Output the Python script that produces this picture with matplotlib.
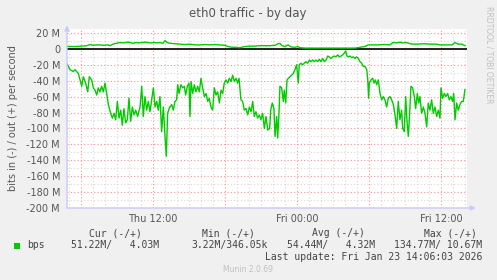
import numpy as np
import matplotlib
matplotlib.use("Agg")
import matplotlib.pyplot as plt
from matplotlib.patches import Rectangle

# hours since Thu 00:00, values in Mbit/s
in_hours = [4.81, 5.08, 5.36, 5.50, 5.78, 5.92, 6.06, 6.19, 6.39, 6.56, 6.69, 6.89, 7.03, 7.17, 7.31,
            7.44, 7.58, 7.72, 7.86, 8.00, 8.14, 8.28, 8.47, 8.61, 8.75, 8.89, 9.03, 9.17, 9.31, 9.44,
            9.58, 9.72, 9.86, 10.00, 10.14, 10.28, 10.42, 10.56, 10.72, 10.92, 11.06, 11.19, 11.33,
            11.47, 11.61, 11.75, 11.89, 12.03, 12.17, 12.31, 12.44, 12.58, 12.72, 12.86, 13.00, 13.11,
            13.22, 13.39, 13.42, 13.56, 13.69, 13.83, 13.97, 14.06, 14.17, 14.33, 14.47, 14.61, 14.72,
            14.86, 15.00, 15.08, 15.17, 15.31, 15.44, 15.58, 15.72, 15.86, 16.00, 16.14, 16.28, 16.42,
            16.56, 16.69, 16.83, 16.97, 17.11, 17.25, 17.39, 17.53, 17.67, 17.81, 17.94, 18.08, 18.22,
            18.36, 18.50, 18.64, 18.78, 18.92, 19.06, 19.17, 19.33, 19.47, 19.61, 19.75, 19.89, 20.03,
            20.17, 20.31, 20.44, 20.58, 20.72, 20.86, 21.00, 21.14, 21.28, 21.42, 21.56, 21.72, 21.81,
            21.94, 22.08, 22.17, 22.31, 22.39, 22.50, 22.58, 22.72, 22.86, 22.94, 23.06, 23.17, 23.28,
            23.42, 23.56, 23.69, 23.83, 23.97, 24.11, 24.19, 24.33, 24.47, 24.61, 24.75, 24.89, 25.03,
            25.17, 25.31, 25.44, 25.58, 25.72, 25.86, 26.00, 26.14, 26.28, 26.42, 26.56, 26.69, 26.83,
            26.97, 27.11, 27.25, 27.39, 27.53, 27.67, 27.81, 27.94, 28.06, 28.17, 28.28, 28.42, 28.56,
            28.69, 28.83, 28.97, 29.11, 29.25, 29.39, 29.53, 29.67, 29.81, 29.90, 29.97, 30.03, 30.17,
            30.31, 30.42, 30.53, 30.64, 30.78, 30.92, 31.06, 31.19, 31.33, 31.47, 31.61, 31.75, 31.89,
            32.03, 32.17, 32.31, 32.44, 32.58, 32.72, 32.81, 32.94, 33.06, 33.17, 33.28, 33.39, 33.50,
            33.64, 33.78, 33.89, 34.03, 34.14, 34.25, 34.39, 34.53, 34.67, 34.81, 34.94, 35.08, 35.22,
            35.36, 35.50, 35.64, 35.78, 35.92, 36.00, 36.14, 36.28, 36.42, 36.56, 36.69, 36.83, 36.97,
            37.06, 37.17, 37.31, 37.44, 37.58, 37.72, 37.86, 38.00]
in_vals = [-18, -26, -28.5, -26, -31, -39, -47, -35, -43, -54, -35, -39, -49, -52, -58,
           -49, -54, -47, -54, -43, -56, -70, -81, -87, -81, -89, -66, -87, -77, -96,
           -75, -93, -89, -62, -91, -73, -83, -77, -85, -73, -47, -85, -60,
           -77, -66, -79, -64, -49, -73, -66, -77, -60, -104, -73, -110, -135,
           -81, -73, -73, -70, -77, -66, -64, -45, -56, -45, -49, -47, -58,
           -47, -43, -85, -41, -56, -45, -54, -47, -54, -37, -49, -60, -56,
           -66, -62, -73, -77, -49, -58, -54, -68, -52, -56, -43, -39, -43,
           -37, -41, -33, -41, -37, -43, -37, -64, -66, -77, -75, -83, -73,
           -79, -66, -85, -79, -87, -83, -89, -81, -100, -85, -102, -100, -77,
           -68, -75, -110, -85, -112, -81, -47, -49, -66, -52, -68, -39, -37,
           -35, -33, -31, -26, -20, -43, -20, -18, -20, -18, -16, -18, -14,
           -16, -14, -16, -14, -16, -13, -16, -12, -16, -14, -9, -10, -12,
           -10, -9, -10, -7.5, -10, -9, -7.5, -5.5, -2.5, -9, -10, -9, -11,
           -10, -12, -10, -12, -16, -18, -22, -22, -26, -39, -62, -43, -39,
           -37, -43, -39, -45, -39, -56, -64, -60, -64, -73, -62, -60, -64,
           -70, -83, -100, -66, -89, -77, -100, -104, -60, -91, -110, -81, -47,
           -49, -60, -75, -56, -68, -60, -81, -73, -81, -98, -68, -77, -64,
           -81, -73, -85, -77, -87, -49, -62, -56, -60, -56, -64, -60, -66,
           -56, -89, -68, -77, -70, -66, -66, -51.2]

out_hours = [4.83, 5.25, 5.67, 6.08, 6.50, 6.75, 7.00, 7.33, 7.58, 7.92, 8.25, 8.42, 8.67, 8.92,
             9.25, 9.58, 9.83, 10.08, 10.33, 10.58, 10.83, 11.08, 11.33, 11.58, 11.83, 12.08, 12.33,
             12.58, 12.83, 13.00, 13.17, 13.42, 13.83, 14.25, 14.67, 15.08, 15.50, 15.92, 16.33,
             16.75, 17.17, 17.58, 18.00, 18.25, 18.58, 18.92, 19.25, 19.50, 19.75, 20.08, 20.50,
             20.92, 21.33, 21.75, 22.17, 22.42, 22.58, 22.75, 23.00, 23.25, 23.50, 23.83, 24.08,
             24.25, 24.67, 25.08, 25.92, 26.75, 27.58, 28.42, 28.83, 29.25, 29.67, 29.92, 30.25,
             30.75, 31.25, 31.75, 32.00, 32.33, 32.58, 32.83, 33.08, 33.33, 33.58, 34.08, 34.58,
             35.08, 35.58, 35.92, 36.42, 36.92, 37.17, 37.42, 37.75, 38.00]
out_vals = [3, 3, 3, 3.5, 4, 5.5, 4.5, 5, 5, 4.5, 5, 4, 6, 7,
            8, 7.5, 8.5, 8, 7, 8, 7.5, 8, 8.5, 8, 7.5, 8, 7.5,
            8, 7, 10.5, 8, 7, 6.5, 6, 5.5, 6, 5, 5, 5.5,
            5, 5.5, 5, 4.5, 3, 2, 2, 1.5, 2.5, 3, 3.5, 3.5,
            4, 4, 4, 4.5, 6.5, 7, 4, 3, 5, 2.5, 2, 3,
            1.5, 1, 1, 1, 1, 1, 1, 1, 2, 3, 5, 5,
            5, 5.5, 5, 8, 7.5, 8.5, 7.5, 8, 7, 6, 6, 6.5,
            6, 6, 5, 5, 5, 8, 6, 6, 4.03]

x_ticks = [12, 24, 36]
x_labels = ["Thu 12:00", "Fri 00:00", "Fri 12:00"]
y_ticks = [20, 0, -20, -40, -60, -80, -100, -120, -140, -160, -180, -200]
y_labels = ["20 M", "0", "-20 M", "-40 M", "-60 M", "-80 M", "-100 M", "-120 M",
            "-140 M", "-160 M", "-180 M", "-200 M"]

legend_head = ["Cur (-/+)", "Min (-/+)", "Avg (-/+)", "Max (-/+)"]
legend_vals = ["51.22M/   4.03M", "3.22M/346.05k", "54.44M/   4.32M", "134.77M/ 10.67M"]

W, H = 497, 280
fig = plt.figure(figsize=(W / 100, H / 100), dpi=100, facecolor="#f0f0f0")

def fx(px):
    return px / W

def fy(py):
    return 1 - py / H

ax = fig.add_axes([fx(67), fy(208), fx(467) - fx(67), fy(29) - fy(208)])
ax.set_facecolor("white")
ax.set_xlim(4.833, 38.17)
ax.set_ylim(-200, 25)

# grid
for h in np.arange(5, 39, 1):
    c = "#ff9090" if h % 6 == 0 else "#d8d8d8"
    ax.axvline(h, color=c, lw=0.8, ls=(0, (1, 2)), zorder=1)
for v in np.arange(-200, 21, 10):
    c = "#ff9090" if v % 20 == 0 else "#d8d8d8"
    ax.axhline(v, color=c, lw=0.8, ls=(0, (1, 2)), zorder=1)

ax.axhline(0, color="black", lw=1.2, zorder=3)
ax.plot(in_hours, in_vals, color="#00cc00", lw=1, zorder=4)
ax.plot(out_hours, out_vals, color="#00cc00", lw=1, zorder=4)

for s in ax.spines.values():
    s.set_visible(False)
ax.set_xticks(x_ticks)
ax.set_xticklabels(x_labels)
ax.set_yticks(y_ticks)
ax.set_yticklabels(y_labels)
ax.tick_params(length=0, labelsize=7, colors="#555555", pad=5)
ax.tick_params(axis="x", pad=4)
ax.set_ylabel("bits in (-) / out (+) per second", fontsize=7, color="#555555", labelpad=6)

# axis lines with arrows
arrow = dict(arrowstyle="-|>", color="#c8c8ff", lw=1, mutation_scale=7, shrinkA=0, shrinkB=0)
ax.annotate("", xy=(1.022, 0), xytext=(0, 0), xycoords="axes fraction", arrowprops=arrow,
            annotation_clip=False, zorder=5)
ax.annotate("", xy=(0, 1.02), xytext=(0, 0), xycoords="axes fraction", arrowprops=arrow,
            annotation_clip=False, zorder=5)

fig.text(fx(248), fy(14), "eth0 traffic - by day", ha="center", va="center", fontsize=8.5,
         color="#555555")
fig.text(fx(489), fy(6), "RRDTOOL / TOBI OETIKER", rotation=270, ha="center", va="top",
         fontsize=5.5, color="#c0c0c0")

mono = "DejaVu Sans Mono"
head_x = [115.5, 228, 338.5, 450]
val_x = [159, 268, 375, 482]
for hx, t in zip(head_x, legend_head):
    fig.text(fx(hx), fy(233), t, ha="center", va="center", fontsize=7, family=mono, color="#444444")
fig.patches.append(Rectangle((fx(14), fy(249)), fx(6), fy(243) - fy(249), transform=fig.transFigure,
                             facecolor="#00cc00", edgecolor="none"))
fig.text(fx(27), fy(245), "bps", ha="left", va="center", fontsize=7, family=mono, color="#444444")
for vx, t in zip(val_x, legend_vals):
    fig.text(fx(vx), fy(245), t, ha="right", va="center", fontsize=7, family=mono, color="#444444")
fig.text(fx(482), fy(257), "Last update: Fri Jan 23 14:06:03 2026", ha="right", va="center",
         fontsize=7, family=mono, color="#444444")
fig.text(fx(248), fy(269), "Munin 2.0.69", ha="center", va="center", fontsize=5.5, color="#c0c0c0")

fig.savefig("out.png", dpi=100, facecolor=fig.get_facecolor())
